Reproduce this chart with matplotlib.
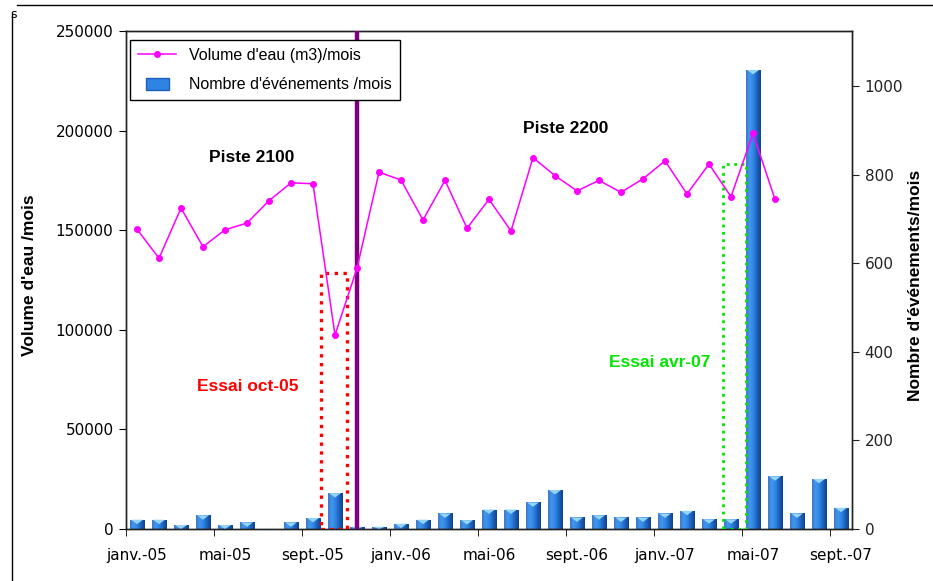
import numpy as np
import matplotlib
matplotlib.use("Agg")
import matplotlib.pyplot as plt
from matplotlib.colors import LinearSegmentedColormap
from matplotlib.patches import Rectangle, Patch
from matplotlib.lines import Line2D
from matplotlib.legend_handler import HandlerPatch

# monthly data, janv.-05 .. sept.-07
tick_labels = ['janv.-05', 'mai-05', 'sept.-05', 'janv.-06', 'mai-06',
               'sept.-06', 'janv.-07', 'mai-07', 'sept.-07']
volume = [150500, 135900, 161100, 141700, 150200, 153600, 164800, 173800,
          173300, 97400, 130900, 179100, 175200, 155100, 175000, 151000,
          165500, 149600, 186400, 177400, 169700, 175000, 169000, 175800,
          184800, 168200, 183200, 166800, 198600, 165500]
events = [21, 21, 9, 31, 9, 15, 1, 15, 25, 81, 5, 5, 12, 21, 35, 20, 44, 44,
          60, 88, 26, 31, 26, 26, 35, 41, 22, 22, 1036, 119, 35, 113, 48]

n = len(events)
x = np.arange(n)

plt.rcParams['font.family'] = 'DejaVu Sans'
fig = plt.figure(figsize=(9.33, 5.81), dpi=100)
ax = fig.add_axes([126/933, 52/581, 726/933, 498/581])
ax2 = ax.twinx()
ax.set_zorder(ax2.get_zorder() + 1)
ax.patch.set_visible(False)

# bars with a little excel-like shading
bars = ax2.bar(x, events, width=0.68, color='#1F66C9', edgecolor='#0E3A7A',
               linewidth=0.5, zorder=2)
cmap = LinearSegmentedColormap.from_list(
    'blu', ['#3F78C4', '#4298F0', '#2F84E2', '#1E60BC', '#10428C'])
grad = np.linspace(0, 1, 64)[None, :]
for b in bars:
    x0, w, h = b.get_x(), b.get_width(), b.get_height()
    if h <= 0:
        continue
    im = ax2.imshow(grad, extent=[x0, x0 + w, 0, h], aspect='auto',
                    cmap=cmap, zorder=2.5)
    im.set_clip_path(b)
    cap = min(10, h)
    ax2.fill([x0 + 0.1*w, x0 + 0.9*w, x0 + 0.5*w], [h, h, h - cap],
             color='#93D4F8', zorder=3, lw=0)
ax2.set_xlim(-0.5, n - 0.5)
ax2.set_ylim(0, 1124)
ax2.set_yticks(range(0, 1001, 200))
ax2.tick_params(axis='y', labelsize=11, length=5, direction='out',
                colors='#222222', pad=4)

# line
ax.plot(np.arange(len(volume)), volume, color='#FF00FF', lw=1.1,
        marker='o', ms=4, zorder=5)
ax.set_xlim(-0.5, n - 0.5)
ax.set_ylim(0, 250000)
ax.set_yticks(range(0, 250001, 50000))
ax.tick_params(axis='y', labelsize=11, length=5, direction='out', pad=4)

ax.set_xticks(np.arange(0, n, 4))
ax.set_xticklabels(tick_labels)
ax.set_xticks(np.arange(-0.5, n, 4), minor=True)
ax.tick_params(axis='x', which='major', length=0, labelsize=11, pad=14)
ax.tick_params(axis='x', which='minor', length=5, direction='out')
ax2.tick_params(axis='x', which='both', length=0)

# separation between pistes and test periods
ax.axvline(10, color='#800080', lw=3.2, zorder=4)
ax.add_patch(Rectangle((8.35, 0), 1.18, 128700, fill=False, edgecolor='#FF0000',
                       linestyle=':', lw=2.4, zorder=4))
ax.add_patch(Rectangle((26.65, 0), 1.03, 183400, fill=False, edgecolor='#00E600',
                       linestyle=':', lw=2.0, zorder=4))

bold = dict(family='Liberation Sans', fontweight='bold', fontsize=12.5,
            ha='center', va='center')
ax.text(5.23, 186400, 'Piste 2100', color='black', **bold)
ax.text(19.5, 201200, 'Piste 2200', color='black', **bold)
ax.text(5.05, 71300, 'Essai oct-05', color='#FF0000', **bold)
ax.text(23.77, 83800, 'Essai avr-07', color='#00E600', **bold)

fig.text(30/933, 1 - 275/581, "Volume d'eau /mois", rotation=90,
         family='Liberation Sans', fontweight='bold', fontsize=12.5,
         ha='center', va='center')
fig.text(915/933, 1 - 285/581, "Nombre d'événements/mois", rotation=90,
         family='Liberation Sans', fontweight='bold', fontsize=12.5,
         ha='center', va='center')


def small_box(legend, orig_handle, xdescent, ydescent, width, height, fontsize):
    return Rectangle((-xdescent + 0.2*width, -ydescent - 0.1*height),
                     0.62*width, 1.1*height)


handles = [Line2D([], [], color='#FF00FF', lw=1.1, marker='o', ms=4),
           Patch(facecolor='#2F84E2', edgecolor='#1E60BC')]
ax.legend(handles, ["Volume d'eau (m3)/mois", "Nombre d'événements /mois"],
          loc='upper left', bbox_to_anchor=(0.0055, 0.982), borderaxespad=0,
          fancybox=False, framealpha=1, edgecolor='black',
          prop={'family': 'Liberation Sans', 'size': 11.5},
          handlelength=2.4, labelspacing=0.9, borderpad=0.5,
          handler_map={Patch: HandlerPatch(patch_func=small_box)})

for a in (ax, ax2):
    for s in a.spines.values():
        s.set_color('#222222')
        s.set_linewidth(1)

# leftover chart-area border
fig.add_artist(Line2D([17/933, 1], [1 - 5/581, 1 - 5/581], color='black', lw=1))
fig.add_artist(Line2D([12/933, 12/933], [0, 1 - 14/581], color='black', lw=1))
fig.text(10/933, 1 - 14/581, 's', fontsize=9, ha='left', va='center')

fig.savefig('out.png', dpi=100)
